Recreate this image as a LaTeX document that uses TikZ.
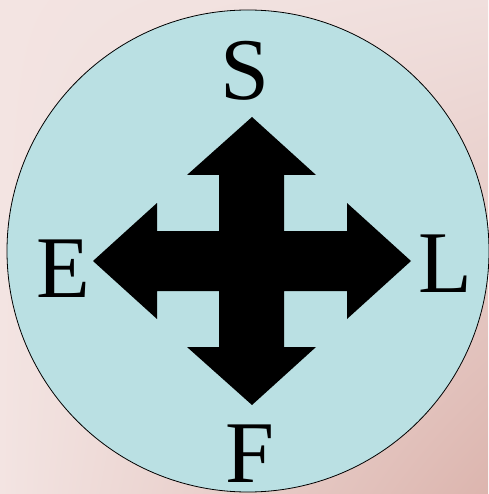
\documentclass[tikz,border=0pt]{standalone}
\usepackage{fontspec}
\setmainfont{Liberation Serif}
\usepackage{xcolor}
\usepackage{tikz}
\usetikzlibrary{positioning,calc,shadings}
\definecolor{backpinklight}{RGB}{243, 228, 226}
\definecolor{backpinkmid}{RGB}{240, 223, 221}
\definecolor{backpinkdark}{RGB}{220, 181, 174}
\definecolor{dialteal}{RGB}{186, 224, 227}

\begin{document}
\begin{tikzpicture}[x=1pt,y=-1pt,
    compasslabel/.style={anchor=base,inner sep=0pt,font=\fontsize{88}{88}\selectfont}]
    % Background
    \useasboundingbox (0,0) rectangle (488,494);
    \shade[upper left=backpinklight,upper right=backpinkmid,
           lower left=backpinklight,lower right=backpinkdark] (0,0) rectangle (488,494);
    
    % Dial
    \filldraw[fill=dialteal,draw=black,line width=0.8pt] (248,251) circle (241);
    
    % Four-way arrow
    \fill[black] (252,117) -- (316,175) -- (284,175) -- (284,231) -- (347,231) -- (347,203)
        -- (411,261) -- (347,319) -- (347,291) -- (284,291) -- (284,347) -- (316,347)
        -- (252,405) -- (187,347) -- (219,347) -- (219,291) -- (157,291) -- (157,319)
        -- (93,261) -- (157,203) -- (157,231) -- (219,231) -- (219,175) -- (187,175) -- cycle;
    
    % Labels
    \node[compasslabel] (north) at (245,100) {S};
    \node[compasslabel] (west) at (63,297) {E};
    \node[compasslabel] (east) at (445,292) {L};
    \node[compasslabel] (south) at (250,482) {F};
\end{tikzpicture}
\end{document}
